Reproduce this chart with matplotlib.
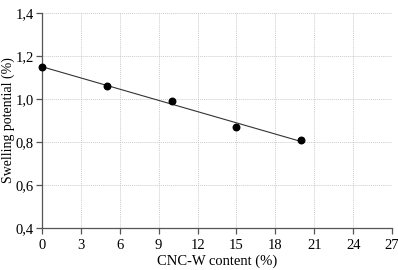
import numpy as np
import matplotlib
matplotlib.use("Agg")
import matplotlib.pyplot as plt
from matplotlib.ticker import FuncFormatter

plt.rcParams['font.family'] = ['Liberation Serif', 'DejaVu Serif']

# CNC-W content (%) and measured swelling potential (%)
cnc_content = [0, 5, 10, 15, 20]
swelling = [1.15, 1.06, 0.99, 0.87, 0.81]

x_ticks = [0, 3, 6, 9, 12, 15, 18, 21, 24, 27]
y_ticks = [0.4, 0.6, 0.8, 1.0, 1.2, 1.4]

fig = plt.figure(figsize=(3.98, 2.70), dpi=100)
ax = fig.add_axes([0.1055, 0.1556, 0.8795, 0.7964])

# linear trend line over the data range
k, b = np.polyfit(cnc_content, swelling, 1)
xs = np.array([min(cnc_content), max(cnc_content)])
ax.plot(xs, k * xs + b, color='#333333', lw=0.8, zorder=2)
ax.scatter(cnc_content, swelling, s=22, color='black', zorder=3, clip_on=False)

ax.set_xlim(0, 27)
ax.set_ylim(0.4, 1.4)
ax.set_xticks(x_ticks)
ax.set_yticks(y_ticks)
ax.yaxis.set_major_formatter(FuncFormatter(lambda v, p: f"{v:.1f}".replace('.', ',')))

ax.grid(True, color='#cccccc', linestyle=(0, (1, 1)), lw=0.7)
ax.set_axisbelow(True)
for s in ['top', 'right']:
    ax.spines[s].set_visible(False)
for s in ['left', 'bottom']:
    ax.spines[s].set_color('#555555')
    ax.spines[s].set_linewidth(0.9)
ax.tick_params(direction='out', length=4, width=0.9, color='#555555', labelsize=10.5)
ax.tick_params(axis='y', pad=2)
ax.tick_params(axis='x', pad=4)

ax.set_xlabel('CNC-W content (%)', fontsize=10.5, labelpad=2)
ax.set_ylabel('Swelling potential (%)', fontsize=10)
ax.yaxis.set_label_coords(-0.077, 0.5)

fig.savefig('out.png', dpi=100)
